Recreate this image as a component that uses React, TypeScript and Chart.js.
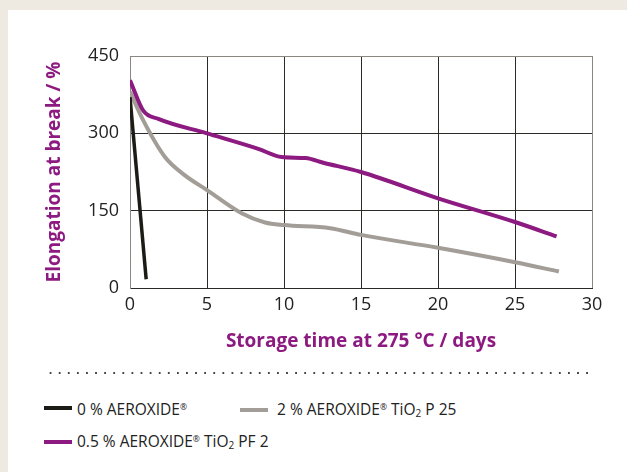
import React, { useEffect, useRef } from "react";
import { Chart, registerables } from "chart.js";

Chart.register(...registerables);

const blackX = [0, 1.05];
const blackY = [370, 17];

const grayX = [0, 0.86, 2.27, 3.5, 5, 7.25, 8.77, 10, 13, 15, 20, 25, 27.85];
const grayY = [381, 325, 254, 220, 190, 145, 127, 122, 116, 103, 78, 50, 32];

const purpleX = [0, 0.86, 1.84, 5, 8.33, 9.85, 11.4, 12.55, 15, 20, 25, 27.7];
const purpleY = [403, 344, 328, 300, 270, 254, 252, 243, 225, 174, 128, 100];

const xTicks = [0, 5, 10, 15, 20, 25, 30];
const yTicks = [0, 150, 300, 450];

const seriesLabels = ["0 % AEROXIDE®", "2 % AEROXIDE® TiO₂ P 25", "0.5 % AEROXIDE® TiO₂ PF 2"];
const xTitle = "Storage time at 275 °C / days";
const yTitle = "Elongation at break / %";

const PURPLE = "#8c1a80";
const GRAY = "#a39d97";
const BLACK = "#1c1c17";
const FONT = "'Open Sans', 'DejaVu Sans', sans-serif";

const pts = (xs: number[], ys: number[]) => xs.map((x, i) => ({ x, y: ys[i] }));

export default function App() {
  const ref = useRef<HTMLCanvasElement | null>(null);
  useEffect(() => {
    if (!ref.current) return;
    const chart = new Chart(ref.current, {
      type: "line",
      data: {
        datasets: [
          { label: seriesLabels[0], data: pts(blackX, blackY), borderColor: BLACK, borderWidth: 3.5, pointRadius: 0, tension: 0 },
          { label: seriesLabels[2], data: pts(purpleX, purpleY), borderColor: PURPLE, borderWidth: 4, pointRadius: 0, cubicInterpolationMode: "monotone" },
          { label: seriesLabels[1], data: pts(grayX, grayY), borderColor: GRAY, borderWidth: 4, pointRadius: 0, cubicInterpolationMode: "monotone" },
        ],
      },
      options: {
        responsive: false,
        animation: false,
        layout: { padding: { top: 46, right: 35, left: 0, bottom: 0 } },
        plugins: { legend: { display: false }, tooltip: { enabled: false } },
        scales: {
          x: {
            type: "linear",
            min: 0,
            max: 30,
            afterBuildTicks: (s: any) => { s.ticks = xTicks.map((v) => ({ value: v })); },
            afterFit: (s: any) => { s.height = 72; },
            grid: {
              drawTicks: false,
              color: (c: any) => (c.tick && (c.tick.value === 0 || c.tick.value === 30) ? "#8a8782" : "#2a2a26"),
              lineWidth: 1,
            },
            border: { color: "#2a2a26", width: 1 },
            ticks: { padding: 6, color: "#222", font: { family: FONT, size: 18 }, maxRotation: 0 },
            title: { display: true, text: xTitle, color: PURPLE, font: { family: FONT, size: 19, weight: "bold" }, padding: { top: 0, bottom: 7 } },
          },
          y: {
            type: "linear",
            min: 0,
            max: 450,
            afterBuildTicks: (s: any) => { s.ticks = yTicks.map((v) => ({ value: v })); },
            afterFit: (s: any) => { s.width = 122; },
            grid: {
              drawTicks: false,
              color: (c: any) => (c.tick && c.tick.value === 450 ? "#8a8782" : "#2a2a26"),
              lineWidth: 1,
            },
            border: { color: "#8a8782", width: 1 },
            ticks: { padding: 11, color: "#222", font: { family: FONT, size: 18 } },
            title: { display: true, text: yTitle, color: PURPLE, font: { family: FONT, size: 19, weight: "bold" }, padding: { top: 35, bottom: 0 } },
          },
        },
      },
    });
    return () => chart.destroy();
  }, []);

  const renderLabel = (label: string) => {
    const out: React.ReactNode[] = [];
    let buf = "";
    let k = 0;
    for (const ch of label) {
      if (ch === "®") {
        out.push(buf);
        buf = "";
        out.push(<sup key={k++} style={{ fontSize: "0.55em", verticalAlign: "0.55em" }}>®</sup>);
      } else if (ch === "₂") {
        out.push(buf);
        buf = "";
        out.push(<sub key={k++} style={{ fontSize: "0.65em", verticalAlign: "-0.2em" }}>2</sub>);
      } else {
        buf += ch;
      }
    }
    out.push(buf);
    return out;
  };

  const legendItem = (label: string, color: string, left: number, top: number, gap: number) => (
    <div style={{ position: "absolute", left, top, display: "flex", alignItems: "center", whiteSpace: "nowrap" }}>
      <div style={{ width: 28, height: 4, background: color, marginRight: gap }} />
      <span style={{ fontFamily: FONT, fontSize: 15.5, color: "#222", lineHeight: "20px" }}>{renderLabel(label)}</span>
    </div>
  );

  return (
    <div style={{ position: "fixed", left: 0, top: 0, width: 627, height: 472, background: "#eeeae2", overflow: "hidden" }}>
      <div style={{ position: "absolute", left: 8, top: 10, width: 619, height: 462, background: "#ffffff" }}>
        <canvas ref={ref} width={619} height={350} style={{ position: "absolute", left: 0, top: 0, width: 619, height: 350 }} />
        <div
          style={{
            position: "absolute",
            left: 38,
            top: 361,
            width: 546,
            height: 4,
            backgroundImage: "radial-gradient(circle, #444 0.9px, transparent 1.3px)",
            backgroundSize: "9.1px 4px",
          }}
        />
        {legendItem(seriesLabels[0], BLACK, 36, 387, 5)}
        {legendItem(seriesLabels[1], GRAY, 232, 387, 9)}
        {legendItem(seriesLabels[2], PURPLE, 36, 419, 5)}
      </div>
    </div>
  );
}
